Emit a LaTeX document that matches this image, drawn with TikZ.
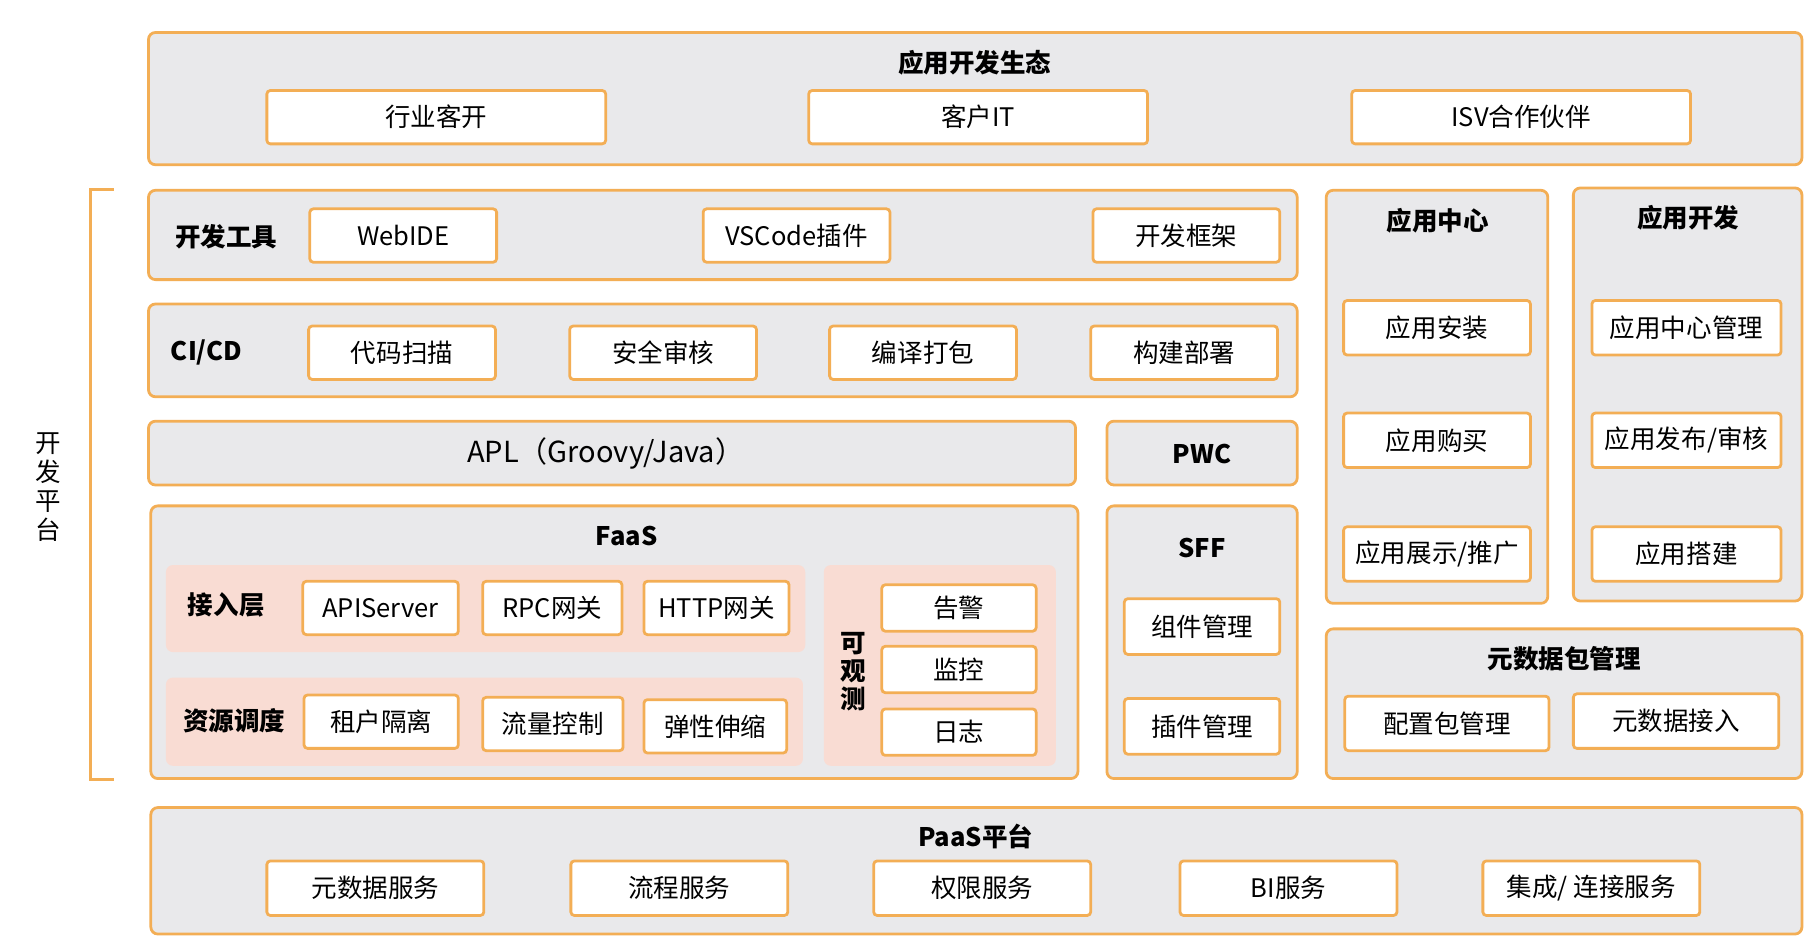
\documentclass[tikz,border=0pt]{standalone}
\usepackage{fontspec}
\setmainfont{Noto Sans CJK SC}
\definecolor{panelgray}{HTML}{E9E9EB}
\definecolor{edgeorange}{HTML}{F3AE55}
\definecolor{zonepink}{HTML}{F9DCD3}
\tikzset{
	panel/.style={draw=edgeorange, line width=1.2pt, fill=panelgray, rounded corners=3pt},
	zone/.style={fill=zonepink, rounded corners=3pt},
	item/.style={draw=edgeorange, line width=1.2pt, fill=white, rounded corners=1.5pt, inner sep=0pt, font=\fontsize{11}{13}\selectfont},
	head/.style={font=\fontsize{11}{13}\selectfont\bfseries},
}
\newcommand{\itembox}[6]{% name, x1, y1, x2, y2, text
	\node[item, minimum width={(#4-#2)*0.5pt}, minimum height={(#5-#3)*0.5pt}] (#1) at ({(#2+#4)/2},{(#3+#5)/2}) {#6};
}
\begin{document}
\begin{tikzpicture}[x=0.5pt, y=-0.5pt]
		\useasboundingbox[fill=white] (0,0) rectangle (1566,817);
		
		% ecosystem
		\draw[panel] (128,28) rectangle (1553,142);
		\node[head] (eco) at (840,54) {应用开发生态};
		\foreach \n/\x/\t in {ind/230/行业客开, cit/697/客户IT, isv/1165/ISV合作伙伴}{
			\itembox{\n}{\x}{78}{\x+292}{124}{\t}
		}
		
		% platform bracket
		\draw[edgeorange, line width=1.2pt] (98,163) -- (78,163) -- (78,672) -- (98,672);
		\node[font=\fontsize{11}{12.5}\selectfont, align=center] (plat) at (42,420) {开\\发\\平\\台};
		
		% tools
		\draw[panel] (128,164) rectangle (1118,241);
		\node[head] (tools) at (195,204) {开发工具};
		\foreach \n/\x/\t in {ide/267/WebIDE, vsc/606/VSCode插件, frm/942/开发框架}{
			\itembox{\n}{\x}{180}{\x+161}{226}{\t}
		}
		
		% ci/cd
		\draw[panel] (128,262) rectangle (1118,342);
		\node[head] (cicd) at (178,304) {CI/CD};
		\foreach \n/\x/\t in {scan/266/代码扫描, audit/491/安全审核, build/715/编译打包, deploy/940/构建部署}{
			\itembox{\n}{\x}{281}{\x+161}{327}{\t}
		}
		
		% apl & pwc
		\draw[panel] (128,363) rectangle (927,418);
		\node[font=\fontsize{12.5}{15}\selectfont] (apl) at (522,391) {APL（Groovy/Java）};
		\draw[panel] (954,363) rectangle (1118,418);
		\node[head] (pwc) at (1036,391) {PWC};
		
		% faas
		\draw[panel] (130,436) rectangle (929,671);
		\node[head] (faas) at (540,462) {FaaS};
		\fill[zone] (143,487) rectangle (694,562);
		\fill[zone] (143,584) rectangle (692,660);
		\fill[zone] (710,487) rectangle (910,660);
		\node[head] (access) at (195,521) {接入层};
		\node[head] (sched) at (202,621) {资源调度};
		\node[head, align=center] (obs) at (735,579) {可\\[-1pt]观\\[-1pt]测};
		\itembox{apis}{261}{501}{395}{547}{APIServer}
		\itembox{rpc}{416}{501}{536}{547}{RPC网关}
		\itembox{http}{555}{501}{680}{547}{HTTP网关}
		\itembox{tenant}{262}{599}{395}{645}{租户隔离}
		\itembox{flow}{416}{601}{537}{647}{流量控制}
		\itembox{scale}{555}{603}{678}{649}{弹性伸缩}
		\foreach \n/\y/\t in {alarm/504/告警, mon/557/监控, log/611/日志}{
			\itembox{\n}{760}{\y}{893}{\y+40}{\t}
		}
		
		% sff
		\draw[panel] (954,436) rectangle (1118,671);
		\node[head] (sff) at (1036,472) {SFF};
		\itembox{comp}{969}{516}{1103}{564}{组件管理}
		\itembox{plug}{969}{602}{1103}{650}{插件管理}
		
		% app center / app dev
		\draw[panel] (1143,164) rectangle (1334,520);
		\node[head] (center) at (1239,190) {应用中心};
		\draw[panel] (1356,162) rectangle (1553,518);
		\node[head] (appdev) at (1455,188) {应用开发};
		\foreach \n/\m/\y/\s/\t in {inst/cmgr/259/应用安装/应用中心管理, buy/pub/356/应用购买/{应用发布/审核}, show/mk/454/{应用展示/推广}/应用搭建}{
			\itembox{\n}{1158}{\y}{1319}{\y+47}{\s}
			\itembox{\m}{1372}{\y}{1535}{\y+47}{\t}
		}
		
		% metadata package
		\draw[panel] (1143,542) rectangle (1553,671);
		\node[head] (meta) at (1348,568) {元数据包管理};
		\itembox{cfg}{1159}{600}{1335}{647}{配置包管理}
		\itembox{mdin}{1356}{598}{1533}{645}{元数据接入}
		
		% paas
		\draw[panel] (130,696) rectangle (1553,805);
		\node[head] (paas) at (841,721) {PaaS平台};
		\foreach \n/\x/\t in {mds/230/元数据服务, proc/492/流程服务, perm/753/权限服务, bi/1017/BI服务, integ/1278/{集成/ 连接服务}}{
			\itembox{\n}{\x}{742}{\x+187}{789}{\t}
		}
\end{tikzpicture}
\end{document}
